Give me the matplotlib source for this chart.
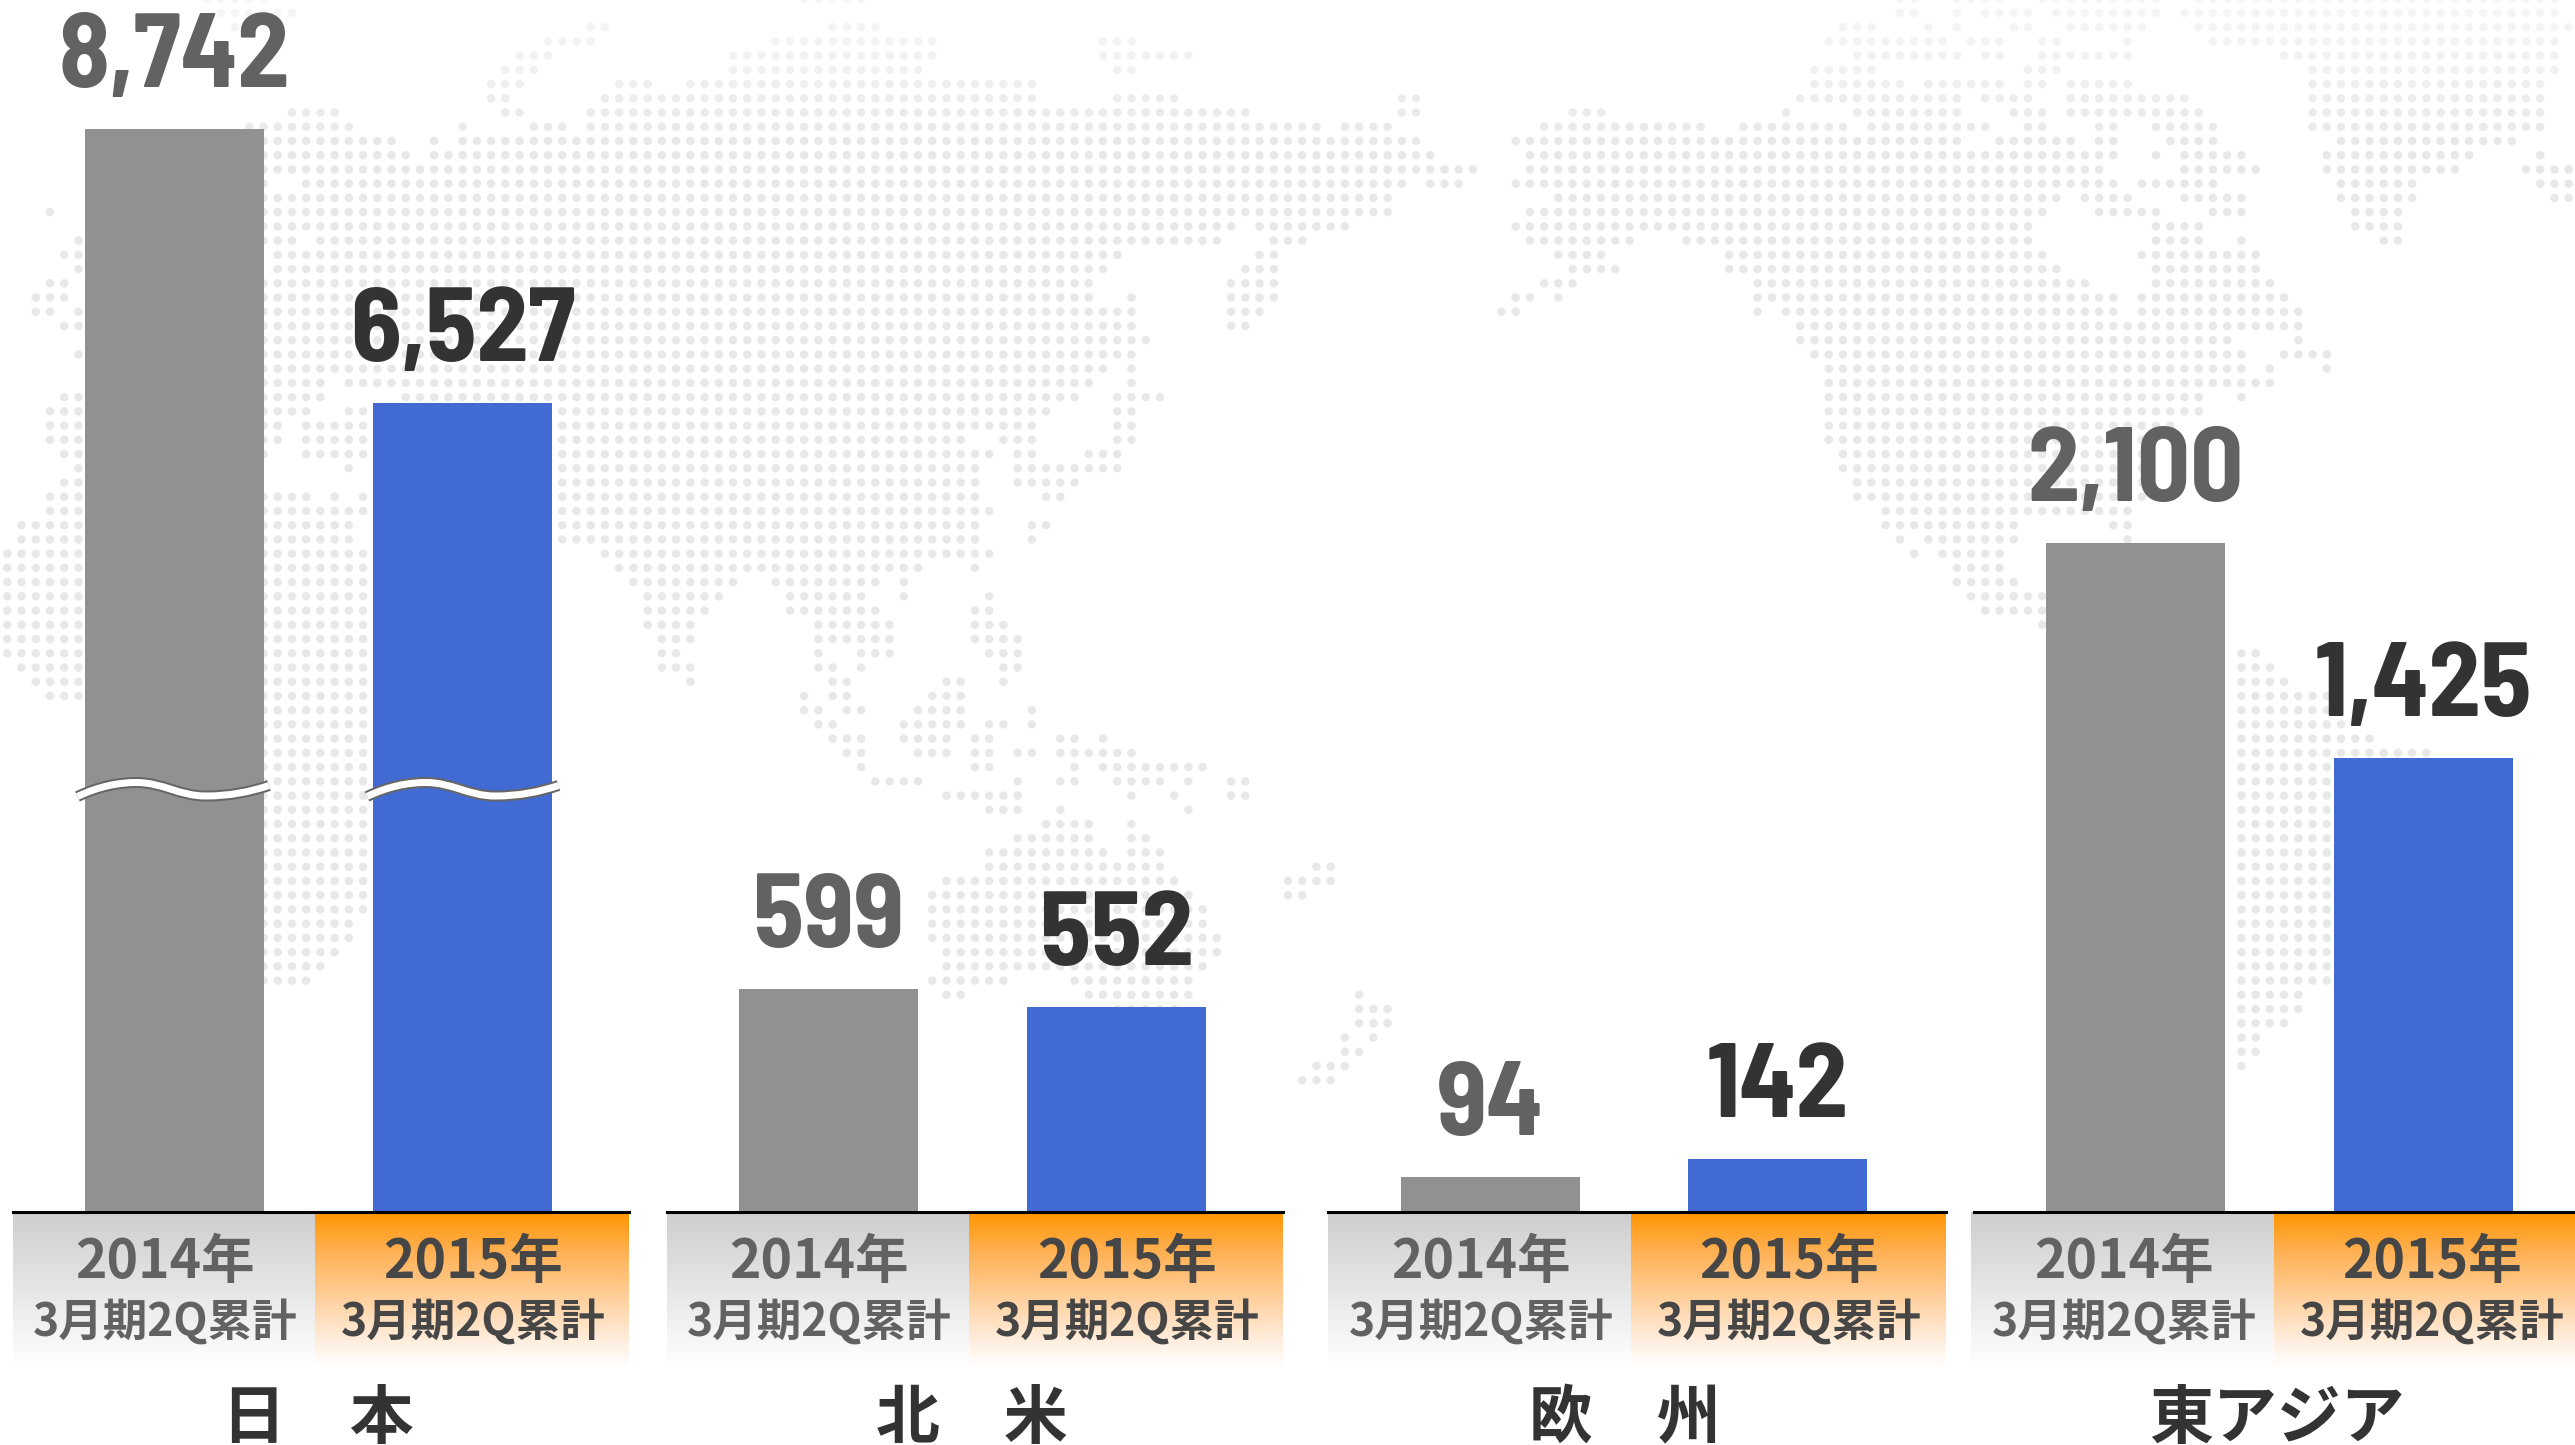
import matplotlib
matplotlib.use("Agg")
import numpy as np
import matplotlib.pyplot as plt
from matplotlib.colors import LinearSegmentedColormap
from matplotlib.path import Path
from matplotlib.patches import PathPatch
import logging
logging.getLogger('matplotlib.font_manager').setLevel(logging.ERROR)

W, H = 2575, 1445
DPI = 100
CJK = ['Noto Sans CJK JP', 'DejaVu Sans']
NUMF = ['Barlow Semi Condensed', 'Roboto Condensed', 'Liberation Sans', 'DejaVu Sans']

# ---------- data ----------
regions = ['日\u3000本', '北\u3000米', '欧\u3000州', '東アジア']
values_2014 = [8742, 599, 94, 2100]
values_2015 = [6527, 552, 142, 1425]
year_labels = ['2014年', '2015年']
period_label = '3月期2Q累計'
broken = [True, False, False, False]

# layout, in reference pixels
px_per_unit = [0.1239, 0.372, 0.372, 0.3187]
bar_left_2014 = [85, 739, 1401, 2046]
bar_left_2015 = [373, 1027, 1688, 2334]
bar_w = 179
strip_start = [13, 667, 1328, 1971]
strip_split = [315, 969, 1631, 2274]
strip_end = [629, 1283, 1946, 2590]
line_start = [13, 667, 1328, 1974]
region_cx = [318, 972, 1625, 2277]
BASE_Y = 1212
STRIP_BOTTOM = 1367

# decorative dot map: row -> runs of (first column, last column)
map_rows = {
 0: [(14,18),(56,60),(133,134),(137,140),(143,151),(154,179)],
 1: [(15,20),(133,134),(137,137),(139,142),(144,151),(153,179)],
 2: [(16,16),(41,42),(58,61),(129,131),(135,135),(137,137),(141,142),(145,150),(154,180)],
 3: [(38,41),(54,65),(77,79),(128,136),(138,140),(143,144),(149,149),(155,179)],
 4: [(36,38),(51,65),(77,83),(130,137),(139,140),(143,149),(160,179)],
 5: [(35,37),(51,64),(78,79),(127,131),(142,144),(162,179)],
 6: [(34,36),(43,45),(48,72),(127,133),(135,140),(142,143),(145,149),(162,178)],
 7: [(34,35),(42,72),(78,82),(98,99),(126,137),(139,142),(145,153),(162,178)],
 8: [(20,23),(35,36),(41,87),(98,99),(110,112),(125,125),(130,137),(141,143),(145,154),(162,178)],
 9: [(17,24),(32,32),(37,39),(41,92),(94,97),(108,119),(122,129),(131,139),(142,143),(147,148),(151,155),(162,178)],
 10: [(18,27),(30,30),(32,99),(106,137),(140,145),(147,148),(152,155),(164,176)],
 11: [(18,28),(30,100),(107,148),(151,151),(153,157),(163,173),(178,178)],
 12: [(18,103),(107,147),(153,158),(163,172),(177,180)],
 13: [(18,18),(21,98),(100,102),(106,148),(150,155),(164,169),(178,180)],
 14: [(18,97),(109,144),(146,149),(153,157),(164,169),(179,180)],
 15: [(3,3),(18,97),(107,143),(147,151),(155,157),(165,168)],
 16: [(18,86),(88,94),(106,142),(151,154),(165,168)],
 17: [(5,5),(18,20),(22,85),(89,91),(107,114),(118,142),(151,154),(157,157),(167,168)],
 18: [(4,5),(19,78),(88,89),(109,112),(121,143),(150,158)],
 19: [(5,5),(19,77),(87,89),(110,113),(121,144),(151,158)],
 20: [(3,4),(18,76),(86,89),(108,110),(123,146),(151,159)],
 21: [(2,4),(18,76),(79,79),(86,89),(106,107),(109,109),(123,148),(150,160)],
 22: [(2,3),(5,5),(18,79),(86,88),(105,106),(123,123),(125,148),(150,161)],
 23: [(4,5),(18,79),(86,87),(126,161)],
 24: [(18,80),(126,156),(161,161)],
 25: [(5,5),(18,79),(127,157),(160,163)],
 26: [(18,77),(79,79),(128,157),(159,159),(163,163)],
 27: [(18,22),(24,76),(79,79),(128,159)],
 28: [(4,5),(18,22),(28,75),(78,81),(128,154),(157,157)],
 29: [(3,5),(18,21),(24,73),(78,79),(128,154)],
 30: [(3,5),(18,19),(21,72),(78,79),(128,152)],
 31: [(3,5),(18,19),(21,67),(70,72),(78,79),(128,150)],
 32: [(4,5),(18,18),(21,69),(71,72),(76,78),(129,150)],
 33: [(5,5),(24,24),(39,68),(71,78),(129,150)],
 34: [(4,5),(39,68),(71,75),(130,150)],
 35: [(3,5),(18,21),(23,23),(25,25),(39,68),(73,74),(130,150)],
 36: [(3,5),(18,25),(39,69),(132,149)],
 37: [(1,5),(18,24),(39,68),(72,73),(132,141),(148,149)],
 38: [(1,5),(18,24),(39,68),(72,72),(133,133),(135,141),(149,149)],
 39: [(0,5),(18,25),(42,69),(134,134),(136,140)],
 40: [(0,5),(18,25),(43,64),(68,68),(137,140)],
 41: [(0,5),(18,25),(44,51),(54,61),(63,63),(137,141)],
 42: [(0,5),(18,25),(45,50),(55,60),(63,63),(69,69),(138,143)],
 43: [(0,5),(18,25),(45,49),(55,61),(68,69),(139,143)],
 44: [(0,5),(18,25),(45,48),(57,62),(68,70),(143,143)],
 45: [(0,5),(18,25),(46,48),(57,62),(68,71)],
 46: [(0,5),(18,25),(46,47),(57,57),(60,62),(69,71),(157,158)],
 47: [(1,5),(18,25),(46,48),(57,58),(60,60),(70,71),(157,159)],
 48: [(2,5),(18,25),(48,48),(58,59),(66,67),(70,70),(157,160)],
 49: [(3,5),(18,25),(56,56),(58,59),(65,67),(157,163)],
 50: [(18,25),(56,57),(59,60),(64,67),(72,72),(157,163)],
 51: [(18,25),(57,58),(63,67),(69,70),(72,72),(157,164)],
 52: [(18,25),(58,60),(63,66),(68,69),(74,75),(77,77),(157,166)],
 53: [(18,25),(59,60),(64,66),(68,69),(71,72),(74,79),(157,170)],
 54: [(18,25),(60,60),(68,69),(75,75),(77,84),(157,164)],
 55: [(18,25),(61,64),(71,71),(74,75),(78,81),(83,83),(86,87),(157,164)],
 56: [(18,25),(66,71),(79,79),(82,82),(86,87),(157,164)],
 57: [(18,25),(69,71),(74,74),(83,83),(157,164)],
 58: [(18,25),(73,76),(79,79),(157,164)],
 59: [(18,25),(71,76),(79,80),(157,164)],
 60: [(18,25),(69,77),(79,81),(157,164)],
 61: [(18,25),(69,81),(92,93),(157,164)],
 62: [(18,25),(66,82),(90,93),(157,164)],
 63: [(18,25),(65,83),(90,91),(157,164)],
 64: [(18,25),(65,84),(157,164)],
 65: [(18,24),(65,84),(157,164)],
 66: [(18,24),(65,85),(157,164)],
 67: [(18,23),(66,85),(157,164)],
 68: [(18,22),(66,84),(157,163)],
 69: [(18,21),(65,70),(75,83),(157,163)],
 70: [(66,67),(76,83),(95,95),(157,161)],
 71: [(78,82),(95,97),(157,161)],
 72: [(95,97),(157,160)],
 73: [(94,94),(96,96),(157,158)],
 74: [(94,95),(157,158)],
 75: [(92,94),(157,157)],
 76: [(91,93)],
}

# ---------- helpers ----------
fig = plt.figure(figsize=(W / DPI, H / DPI), dpi=DPI, facecolor='white')


def px_axes(x0, y0, x1, y1, **kw):
    """Axes occupying a rectangle given in top-left-origin pixels."""
    return fig.add_axes([x0 / W, 1 - y1 / H, (x1 - x0) / W, (y1 - y0) / H], **kw)


# ---------- dot map ----------
PITCH, X0, Y0 = 14.23, 7.3, -1.3
bg = px_axes(0, 0, W, H, zorder=0)
bg.set_xlim((0 - X0) / PITCH, (W - X0) / PITCH)
bg.set_ylim((H - Y0) / PITCH, (0 - Y0) / PITCH)
bg.axis('off')
cols, rows, shades = [], [], []
for r, runs in map_rows.items():
    shade = np.interp(r, [0, 4, 10], [0.965, 0.95, 0.91])
    for a, b in runs:
        for c in range(a, b + 1):
            cols.append(c)
            rows.append(r)
            shades.append(shade)
bg.scatter(cols, rows, s=37, c=[(s, s, s) for s in shades], linewidths=0, clip_on=True)

# ---------- gradient strips ----------
gray_cm = LinearSegmentedColormap.from_list(
    'g', [(0, '#cecece'), (0.5, '#e6e6e6'), (0.85, '#f8f8f8'), (1, '#ffffff')])
orange_cm = LinearSegmentedColormap.from_list(
    'o', [(0, '#ff9500'), (0.25, '#ffb052'), (0.55, '#ffcf9b'), (0.85, '#fff0e2'), (1, '#ffffff')])
grad = np.linspace(0, 1, 256).reshape(-1, 1)
for i in range(4):
    for (a, b, cm) in [(strip_start[i], strip_split[i], gray_cm),
                       (strip_split[i], strip_end[i], orange_cm)]:
        s = px_axes(a, BASE_Y, b, STRIP_BOTTOM, zorder=1)
        s.imshow(grad, aspect='auto', cmap=cm, vmin=0, vmax=1)
        s.axis('off')

# ---------- bars ----------
for i in range(4):
    c0 = bar_left_2014[i] + bar_w / 2
    step = bar_left_2015[i] - bar_left_2014[i]
    ax = px_axes(line_start[i], 0, min(strip_end[i], W), BASE_Y, zorder=2)
    ax.patch.set_alpha(0)
    ax.set_xlim((line_start[i] - c0) / step, (min(strip_end[i], W) - c0) / step)
    ax.set_ylim(0, BASE_Y / px_per_unit[i])
    for name in ['top', 'left', 'right']:
        ax.spines[name].set_visible(False)
    ax.spines['bottom'].set_linewidth(2.2)
    ax.spines['bottom'].set_color('#000000')
    ax.set_xticks([])
    ax.set_yticks([])
    vals = [values_2014[i], values_2015[i]]
    ax.bar([0, 1], vals, width=bar_w / step, color=['#919191', '#426AD3'], linewidth=0)
    for x, v, col in zip([0, 1], vals, ['#626262', '#333333']):
        ax.annotate(f'{v:,}', (x, v), xytext=(0, 42 * 72 / DPI), textcoords='offset points',
                    ha='center', va='baseline', fontsize=75, fontweight='bold',
                    family=NUMF, color=col, annotation_clip=False)

# ---------- overlay: text and break marks ----------
ov = px_axes(0, 0, W, H, zorder=3)
ov.set_xlim(0, W)
ov.set_ylim(H, 0)
ov.axis('off')
ov.patch.set_alpha(0)

for i in range(4):
    for cx, lab, col in [(strip_split[i] - 150, year_labels[0], '#626262'),
                         (strip_split[i] + 158.5, year_labels[1], '#464646')]:
        ov.text(cx, 1278, lab, ha='center', va='baseline', fontsize=38.5,
                fontweight='bold', family=CJK, color=col)
        ov.text(cx, 1335.5, period_label, ha='center', va='baseline', fontsize=32,
                fontweight='bold', family=CJK, color=col)
    ov.text(region_cx[i], 1438, regions[i], ha='center', va='baseline', fontsize=46,
            fontweight='bold', family=CJK, color='#333333')

wave = [(-97, 796.5), (-75, 786), (-55, 782.5), (-38, 782.5), (-12, 782.5), (5, 796), (31, 796),
        (55, 796), (75, 792), (94.5, 785.5)]
wave_codes = [Path.MOVETO] + [Path.CURVE4] * 9
for i in range(4):
    if not broken[i]:
        continue
    for c, shift in [(bar_left_2014[i] + bar_w / 2, 0), (bar_left_2015[i] + bar_w / 2, 1.5)]:
        verts = [(c + shift + x, y) for x, y in wave]
        p = Path(verts, wave_codes)
        ov.add_patch(PathPatch(p, fc='none', ec='#666666', lw=11 * 72 / DPI, capstyle='butt'))
        ov.add_patch(PathPatch(p, fc='none', ec='#ffffff', lw=7 * 72 / DPI, capstyle='butt'))

fig.savefig('out.png', dpi=DPI, facecolor='white')
